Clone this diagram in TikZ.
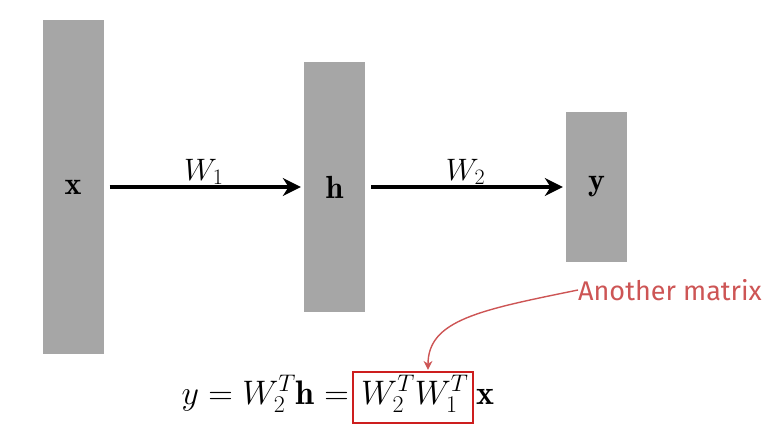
\RequirePackage{fix-cm}
\documentclass[tikz,border=0pt]{standalone}
\usepackage{fontspec}
\newfontfamily\annfont{Fira Sans}
\usetikzlibrary{arrows.meta,calc}
\definecolor{boxgray}{RGB}{166,166,166}
\definecolor{annred}{RGB}{205,85,85}
\definecolor{boxred}{RGB}{205,30,30}
\DeclareMathSizes{31}{31}{22}{16}
\DeclareMathSizes{32}{32}{22}{16}
\DeclareMathSizes{34}{34}{24}{17}
\tikzset{
  layer/.style={fill=boxgray,draw=none,minimum width=61pt,inner sep=0pt,font=\fontsize{32}{36}\selectfont},
  flow/.style={line width=3.5pt,-{Stealth[length=18pt,width=18pt]},shorten <=6pt,shorten >=3pt},
  wlabel/.style={font=\fontsize{31}{36}\selectfont},
  eq/.style={font=\fontsize{34}{38}\selectfont,inner sep=0pt},
}
\begin{document}
\begin{tikzpicture}[x=1pt,y=-1pt]
\useasboundingbox (0,0) rectangle (780,436);
\node[layer,minimum height=334pt] (xb) at (73,187) {$\mathbf{x}$};
\node[layer,minimum height=250pt] (hb) at (334.5,187) {$\mathbf{h}$};
\node[layer,minimum height=150pt] (yb) at (596.5,187) {$\mathbf{y}$};
\draw[flow] (xb.east) -- node[wlabel,above=-3pt] {$W_1$} (hb.west);
\draw[flow] (hb.east) -- node[wlabel,above=-3pt] {$W_2$} (yb.west);
\node[draw=boxred,line width=2.2pt,minimum width=120pt,minimum height=51pt,inner sep=0pt] (redbox) at (413,397.5) {};
\node[eq,anchor=base west] (mid) at (361,404) {$W_2^TW_1^T$};
\node[eq,anchor=base east] (lhs) at (349,404) {$y = W_2^T\mathbf{h} =$};
\node[eq,anchor=base west] (rhs) at (476,404) {$\mathbf{x}$};
\coordinate (tip) at ($(redbox.north)+(15,-1)$);
\node[anchor=west,text=annred,inner sep=0pt,font=\annfont\fontsize{27}{31}\selectfont] (ann) at (578,290) {Another matrix};
\draw[annred,line width=1.4pt,-{Stealth[length=9pt,width=9pt]}] (ann.west) .. controls (480,310) and (428,320) .. (tip);
\end{tikzpicture}
\end{document}
